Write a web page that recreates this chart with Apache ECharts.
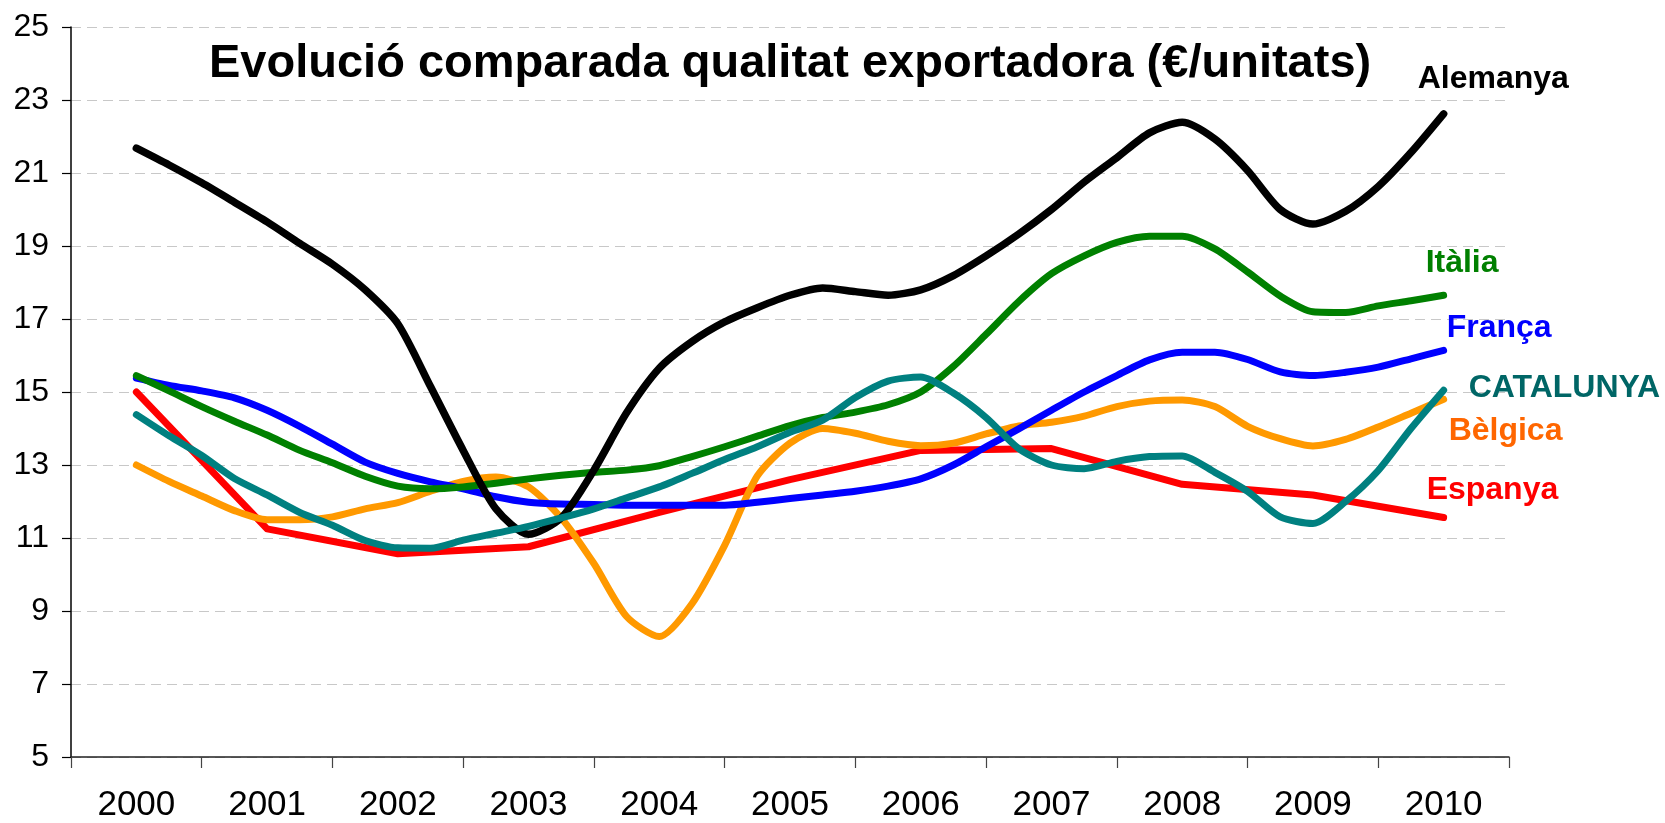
<!DOCTYPE html>
<html>
<head>
<meta charset="utf-8">
<script src="https://cdn.jsdelivr.net/npm/echarts@6/dist/echarts.min.js"></script>
<style>
  html, body { margin: 0; padding: 0; background: #fff; }
  #chart { width: 1665px; height: 823px; }
</style>
</head>
<body>
<div id="chart"></div>
<script>
// anys de l'eix (etiquetes)
var years = ['2000', '2001', '2002', '2003', '2004', '2005', '2006', '2007', '2008', '2009', '2010'];
// punts trimestrals (posicio temporal), de 2000 a 2010
var quarters = [];
for (var i = 0; i <= 40; i++) quarters.push(2000 + i / 4);
var yearPos = [2000, 2001, 2002, 2003, 2004, 2005, 2006, 2007, 2008, 2009, 2010];

var alemanya = [21.68, 21.22, 20.73, 20.2, 19.66, 19.07, 18.5, 17.8, 16.87, 15.15, 13.4,
  11.8, 11.1, 11.55, 12.86, 14.43, 15.65, 16.38, 16.92, 17.31, 17.65,
  17.85, 17.75, 17.65, 17.8, 18.19, 18.73, 19.33, 20.0, 20.75, 21.42,
  22.1, 22.39, 21.93, 21.07, 20.0, 19.6, 19.95, 20.63, 21.56, 22.62];
var italia = [15.45, 15.03, 14.6, 14.2, 13.82, 13.4, 13.06, 12.69, 12.42, 12.35, 12.4,
  12.5, 12.62, 12.72, 12.8, 12.86, 12.98, 13.23, 13.5, 13.79, 14.08,
  14.3, 14.45, 14.65, 15.0, 15.7, 16.58, 17.48, 18.24, 18.73, 19.1,
  19.27, 19.27, 18.92, 18.29, 17.63, 17.2, 17.18, 17.36, 17.5, 17.65];
var franca = [15.38, 15.18, 15.03, 14.84, 14.5, 14.06, 13.57, 13.08, 12.77, 12.54, 12.35,
  12.13, 11.98, 11.93, 11.92, 11.9, 11.9, 11.9, 11.9, 11.98, 12.08,
  12.18, 12.28, 12.42, 12.62, 13.0, 13.5, 13.99, 14.5, 15.0, 15.45,
  15.88, 16.09, 16.09, 15.89, 15.55, 15.45, 15.54, 15.68, 15.91, 16.14];
var catalunya = [14.38, 13.8, 13.26, 12.63, 12.18, 11.7, 11.35, 10.93, 10.73, 10.72, 10.94,
  11.13, 11.32, 11.55, 11.8, 12.1, 12.4, 12.77, 13.15, 13.5, 13.9,
  14.23, 14.85, 15.3, 15.41, 14.97, 14.3, 13.45, 13.0, 12.9, 13.1,
  13.23, 13.25, 12.8, 12.28, 11.58, 11.4, 12.0, 12.85, 14.0, 15.05];
var belgica = [13.0, 12.55, 12.15, 11.75, 11.5, 11.5, 11.58, 11.8, 11.97, 12.28, 12.55,
  12.67, 12.4, 11.55, 10.3, 8.85, 8.3, 9.2, 10.8, 12.7, 13.6,
  14.0, 13.87, 13.65, 13.53, 13.6, 13.85, 14.07, 14.17, 14.34, 14.6,
  14.75, 14.78, 14.6, 14.06, 13.72, 13.52, 13.7, 14.04, 14.42, 14.8];
// Espanya: dades anuals
var espanya = [15.0, 11.25, 10.57, 10.76, 11.7, 12.6, 13.4, 13.45, 12.47, 12.18, 11.56];

function pairs(xs, ys) {
  var out = [];
  for (var i = 0; i < ys.length; i++) out.push([xs[i], ys[i]]);
  return out;
}

function mkSeries(name, xs, ys, color, labelColor, offset, smooth, width) {
  return {
    name: name,
    type: 'line',
    xAxisIndex: 1,
    data: pairs(xs, ys),
    showSymbol: false,
    symbol: 'none',
    smooth: smooth,
    lineStyle: { color: color, width: width || 7, cap: 'round', join: 'round' },
    itemStyle: { color: color },
    endLabel: {
      show: true,
      formatter: name,
      color: labelColor,
      fontSize: 32,
      fontWeight: 'bold',
      fontFamily: 'Liberation Sans',
      offset: offset
    }
  };
}

var chart = echarts.init(document.getElementById('chart'));
var option = {
  animation: false,
  backgroundColor: '#fff',
  title: {
    text: 'Evolució comparada qualitat exportadora (€/unitats)',
    left: 204,
    top: 36,
    textStyle: {
      fontSize: 47,
      fontWeight: 'bold',
      fontFamily: 'Liberation Sans',
      color: '#000'
    }
  },
  grid: {
    left: 71,
    right: 156,
    top: 27,
    bottom: 66,
    containLabel: false
  },
  xAxis: [{
    type: 'category',
    data: years,
    boundaryGap: true,
    axisLine: { lineStyle: { color: '#222', width: 1.5 } },
    axisTick: { show: true, length: 11, lineStyle: { color: '#444', width: 1.2 } },
    axisLabel: {
      fontSize: 35,
      fontFamily: 'Liberation Sans',
      color: '#000',
      margin: 31
    },
    splitLine: { show: false }
  }, {
    type: 'value',
    min: 1999.5,
    max: 2010.5,
    show: false
  }],
  yAxis: {
    type: 'value',
    min: 5,
    max: 25,
    interval: 2,
    axisLine: { show: true, lineStyle: { color: '#000', width: 1.5 } },
    axisTick: { show: true, length: 9, lineStyle: { color: '#000', width: 1.2 } },
    axisLabel: {
      fontSize: 32,
      fontFamily: 'Liberation Sans',
      color: '#000',
      margin: 22
    },
    splitLine: {
      show: true,
      lineStyle: { color: '#c8c8c8', width: 1.2, type: [10, 6] }
    }
  },
  series: [
    mkSeries('Espanya', yearPos, espanya, '#ff0000', '#ff0000', [-25, -27], false),
    mkSeries('Bèlgica', quarters, belgica, '#ff9900', '#ff6600', [-3, 32], 0.25),
    mkSeries('França', quarters, franca, '#0000ff', '#0000ff', [-5, -22], 0.25),
    mkSeries('Itàlia', quarters, italia, '#008000', '#008000', [-26, -32], 0.25),
    mkSeries('Alemanya', quarters, alemanya, '#000000', '#000000', [-34, -35], 0.25, 7.5),
    mkSeries('CATALUNYA', quarters, catalunya, '#008080', '#006666', [17, -2], 0.25)
  ]
};
chart.setOption(option);
</script>
</body>
</html>
